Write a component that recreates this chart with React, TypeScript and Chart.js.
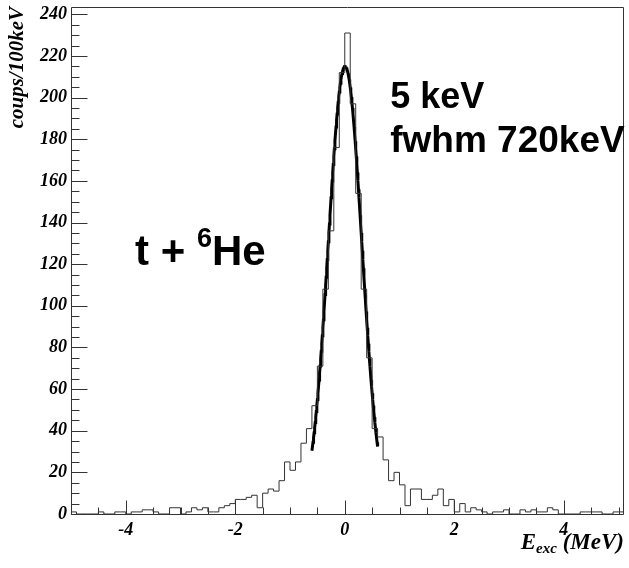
import React, { useEffect, useRef } from 'react';
import { Chart, registerables } from 'chart.js';

Chart.register(...registerables);

// Excitation-energy histogram, 100 keV bins starting at -5.0 MeV
const BIN_START_MEV = -5.0;
const BIN_WIDTH_MEV = 0.1;

// counts per bin, -5.0 .. -1.1 MeV
const COUNTS_LOW_TAIL = [
  1, 0, 0, 0, 0, 1, 0, 0, 1, 1,
  0, 1, 1, 2, 2, 1, 0, 0, 3, 3,
  0, 1, 3, 2, 3, 1, 1, 3, 4, 5,
  7, 7, 8, 9, 3, 10, 12, 11, 16, 25,
];
// counts per bin, -1.0 .. 0.9 MeV
const COUNTS_PEAK = [
  21, 25, 34, 41, 52, 71, 108, 136, 176, 212,
  231, 197, 154, 108, 75, 41, 37, 26, 16, 20,
];
// counts per bin, 1.0 .. 5.0 MeV
const COUNTS_HIGH_TAIL = [
  14, 4, 12, 12, 7, 7, 9, 12, 4, 7,
  1, 5, 1, 3, 2, 1, 0, 1, 1, 2,
  0, 0, 2, 1, 2, 1, 1, 3, 2, 0,
  0, 0, 0, 1, 1, 1, 1, 0, 0, 1,
  1,
];

// Gaussian fit of the ground-state peak
const FIT_CENTROID_KEV = 5;
const FIT_FWHM_KEV = 720;
const FIT_AMPLITUDE = 215;
const FIT_RANGE_MEV = [-0.6, 0.6];

// Axes
const X_MIN = -5;
const X_MAX = 5.1;
const Y_MIN = 0;
const Y_MAX = 243.5;
const X_TICK_LABELS = ['-4', '-2', '0', '2', '4'];
const Y_TICK_LABELS = ['0', '20', '40', '60', '80', '100', '120', '140', '160', '180', '200', '220', '240'];
const Y_TITLE = 'coups/100keV';
const X_TITLE = { main: 'E', sub: 'exc', unit: ' (MeV)' };

// Labels written on the plot
const FIT_NOTES = ['5 keV', 'fwhm 720keV'];
const REACTION_LABEL = { head: 't + ', sup: '6', tail: 'He' };

const SERIF = '"Liberation Serif", "Times New Roman", serif';
const SANS = '"Liberation Sans", Arial, sans-serif';

const allCounts = [...COUNTS_LOW_TAIL, ...COUNTS_PEAK, ...COUNTS_HIGH_TAIL];

function histogramPoints() {
  const pts = allCounts.map((c, i) => ({ x: BIN_START_MEV + i * BIN_WIDTH_MEV, y: c }));
  pts.push({ x: BIN_START_MEV + allCounts.length * BIN_WIDTH_MEV, y: allCounts[allCounts.length - 1] });
  return pts;
}

function fitPoints() {
  const mu = FIT_CENTROID_KEV / 1000;
  const sigma = FIT_FWHM_KEV / 1000 / (2 * Math.sqrt(2 * Math.log(2)));
  const pts = [];
  const n = 120;
  for (let i = 0; i <= n; i++) {
    const x = FIT_RANGE_MEV[0] + ((FIT_RANGE_MEV[1] - FIT_RANGE_MEV[0]) * i) / n;
    pts.push({ x, y: FIT_AMPLITUDE * Math.exp(-0.5 * ((x - mu) / sigma) ** 2) });
  }
  return pts;
}

// Frame, inward ticks, x title and the text labels
const framePlugin = {
  id: 'rootFrame',
  afterDatasetsDraw(chart: any) {
    const { ctx, chartArea: a, scales } = chart;
    const xs = scales.x;
    const ys = scales.y;
    ctx.save();
    ctx.lineWidth = 1;
    ctx.strokeStyle = '#333';
    const L = a.left + 0.5;
    const R = a.right - 0.5;
    const T = a.top + 0.5;
    const B = a.bottom + 0.5;
    ctx.beginPath();
    ctx.moveTo(L, T);
    ctx.lineTo(L, B);
    ctx.lineTo(R, B);
    ctx.lineTo(R, T);
    ctx.closePath();
    ctx.stroke();

    ctx.beginPath();
    for (let v = 0; v <= 240; v += 5) {
      const py = Math.round(ys.getPixelForValue(v)) + 0.5;
      const len = v % 20 === 0 ? 16 : 8;
      ctx.moveTo(L, py);
      ctx.lineTo(L + len, py);
    }
    for (let k = -10; k <= 10; k++) {
      const v = k / 2;
      const px = Math.round(xs.getPixelForValue(v)) + 0.5;
      const len = k % 4 === 0 ? 14 : 7;
      ctx.moveTo(px, B);
      ctx.lineTo(px, B - len);
    }
    ctx.stroke();

    // x axis title with subscript, right aligned to the frame
    ctx.fillStyle = '#000';
    ctx.textBaseline = 'alphabetic';
    const fMain = `italic bold 23px ${SERIF}`;
    const fSub = `italic bold 15px ${SERIF}`;
    ctx.font = fMain;
    const wMain = ctx.measureText(X_TITLE.main).width;
    const wUnit = ctx.measureText(X_TITLE.unit).width;
    ctx.font = fSub;
    const wSub = ctx.measureText(X_TITLE.sub).width;
    const titleBase = a.bottom + 35;
    let tx = a.right - (wMain + wSub + wUnit);
    ctx.font = fMain;
    ctx.fillText(X_TITLE.main, tx, titleBase);
    tx += wMain;
    ctx.font = fSub;
    ctx.fillText(X_TITLE.sub, tx, titleBase + 4);
    tx += wSub;
    ctx.font = fMain;
    ctx.fillText(X_TITLE.unit, tx, titleBase);

    // fit results
    const nx = xs.getPixelForValue(0.83);
    ctx.font = `bold 36px ${SANS}`;
    ctx.fillText(FIT_NOTES[0], nx, ys.getPixelForValue(195));
    ctx.font = `bold 37px ${SANS}`;
    ctx.fillText(FIT_NOTES[1], nx, ys.getPixelForValue(174));

    // reaction label with superscript mass number
    const rx = xs.getPixelForValue(-3.83);
    const ry = ys.getPixelForValue(119.5);
    ctx.font = `bold 42px ${SANS}`;
    ctx.fillText(REACTION_LABEL.head, rx, ry);
    let w = ctx.measureText(REACTION_LABEL.head).width;
    ctx.font = `bold 27px ${SANS}`;
    ctx.fillText(REACTION_LABEL.sup, rx + w, ry - 18);
    w += ctx.measureText(REACTION_LABEL.sup).width;
    ctx.font = `bold 42px ${SANS}`;
    ctx.fillText(REACTION_LABEL.tail, rx + w, ry);
    ctx.restore();
  },
};

export default function App() {
  const ref = useRef<HTMLCanvasElement | null>(null);

  useEffect(() => {
    if (!ref.current) return;
    const tickFont = { family: SERIF, size: 18, weight: 'bold' as const, style: 'italic' as const };
    const chart = new Chart(ref.current, {
      type: 'line',
      data: {
        datasets: [
          {
            label: 'histogram',
            data: histogramPoints(),
            stepped: 'before',
            borderColor: '#333',
            borderWidth: 1,
            pointRadius: 0,
            fill: false,
          },
          {
            label: 'fit',
            data: fitPoints(),
            borderColor: '#000',
            borderWidth: 3,
            pointRadius: 0,
            fill: false,
            tension: 0,
          },
        ],
      },
      options: {
        animation: false,
        responsive: true,
        maintainAspectRatio: false,
        devicePixelRatio: 1,
        parsing: false,
        normalized: true,
        layout: { padding: { top: 7, right: 5, left: 0, bottom: 0 } },
        plugins: { legend: { display: false }, tooltip: { enabled: false } },
        scales: {
          x: {
            type: 'linear',
            min: X_MIN,
            max: X_MAX,
            grid: { display: false, drawTicks: false },
            border: { display: false },
            afterBuildTicks: (s: any) => {
              s.ticks = X_TICK_LABELS.map((t) => ({ value: parseFloat(t) }));
            },
            afterFit: (s: any) => {
              s.height = 54;
              s.paddingLeft = 0;
              s.paddingRight = 0;
            },
            ticks: {
              autoSkip: false,
              maxRotation: 0,
              padding: 6,
              color: '#000',
              font: tickFont,
              callback: (_v: any, i: number) => X_TICK_LABELS[i],
            },
          },
          y: {
            type: 'linear',
            min: Y_MIN,
            max: Y_MAX,
            grid: { display: false, drawTicks: false },
            border: { display: false },
            afterBuildTicks: (s: any) => {
              s.ticks = Y_TICK_LABELS.map((t) => ({ value: parseFloat(t) }));
            },
            afterFit: (s: any) => {
              s.width = 71;
              s.paddingTop = 0;
              s.paddingBottom = 0;
            },
            ticks: {
              autoSkip: false,
              padding: 4,
              color: '#000',
              font: tickFont,
              callback: (_v: any, i: number) => Y_TICK_LABELS[i],
            },
            title: {
              display: true,
              text: Y_TITLE,
              align: 'end',
              color: '#000',
              padding: { top: 5, bottom: 0 },
              font: { family: SERIF, size: 21, weight: 'bold', style: 'italic' },
            },
          },
        },
      },
      plugins: [framePlugin],
    });
    return () => chart.destroy();
  }, []);

  return (
    <div style={{ position: 'fixed', left: 0, top: 0, width: 629, height: 568, background: '#fff' }}>
      <canvas ref={ref} />
    </div>
  );
}
